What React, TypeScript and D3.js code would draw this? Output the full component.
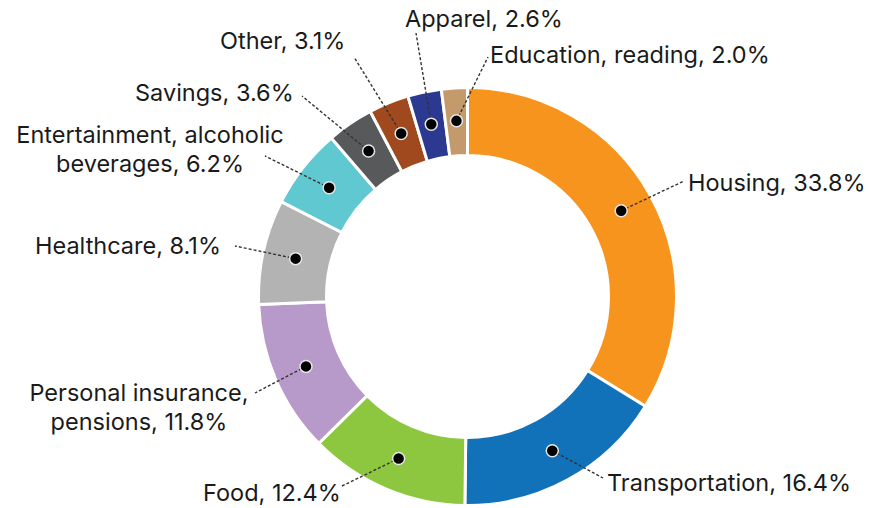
import React from "react";
import * as d3 from "d3";

const categories = [
  "Housing",
  "Transportation",
  "Food",
  "Personal insurance, pensions",
  "Healthcare",
  "Entertainment, alcoholic beverages",
  "Savings",
  "Other",
  "Apparel",
  "Education, reading",
];
const shares = [33.8, 16.4, 12.4, 11.8, 8.1, 6.2, 3.6, 3.1, 2.6, 2.0];
const colors = [
  "#F7941D",
  "#1172BA",
  "#8DC63F",
  "#B89ACA",
  "#B3B3B3",
  "#5FC8D0",
  "#58595B",
  "#A0481E",
  "#2B3990",
  "#C49A6C",
];
// label text lines
const labelLines = [
  ["Housing, 33.8%"],
  ["Transportation, 16.4%"],
  ["Food, 12.4%"],
  ["Personal insurance,", "pensions, 11.8%"],
  ["Healthcare, 8.1%"],
  ["Entertainment, alcoholic", "beverages, 6.2%"],
  ["Savings, 3.6%"],
  ["Other, 3.1%"],
  ["Apparel, 2.6%"],
  ["Education, reading, 2.0%"],
];

// layout (text anchor positions and leader end points)
const labelLayout = [
  { x: 688, y: 191, anchor: "start", lx: 684, ly: 181 },
  { x: 607, y: 491, anchor: "start", lx: 603, ly: 478 },
  { x: 203, y: 501, anchor: "start", lx: 342, ly: 486 },
  { x: 139, y: 401, anchor: "middle", lx: 255, ly: 393 },
  { x: 35, y: 254, anchor: "start", lx: 235, ly: 246 },
  { x: 150, y: 143, anchor: "middle", lx: 265, ly: 156 },
  { x: 135, y: 101, anchor: "start", lx: 302, ly: 96 },
  { x: 220, y: 49, anchor: "start", lx: 354, ly: 57 },
  { x: 405, y: 27, anchor: "start", lx: 416, ly: 33 },
  { x: 490, y: 63, anchor: "start", lx: 488, ly: 57 },
];

const W = 870;
const H = 508;
const cx = 467.5;
const cy = 296.5;
const outerR = 209;
const innerR = 141;
const dotR = 176;

export default function App() {
  const data = categories.map((c, i) => ({ name: c, value: shares[i], i }));
  const pie = d3.pie<any>().sort(null).value((d: any) => d.value);
  const arcs = pie(data);
  const arcGen = d3.arc<any>().innerRadius(innerR).outerRadius(outerR);
  const dotArc = d3.arc<any>().innerRadius(dotR).outerRadius(dotR);

  return (
    <svg
      width={W}
      height={H}
      style={{ position: "absolute", left: 0, top: 0, background: "#fff" }}
      fontFamily="Inter, 'Noto Sans', sans-serif"
    >
      <g transform={`translate(${cx},${cy})`}>
        {arcs.map((a, i) => (
          <path
            key={i}
            d={arcGen(a) as string}
            fill={colors[i]}
            stroke="#fff"
            strokeWidth={3}
          />
        ))}
      </g>
      {arcs.map((a, i) => {
        const [dx, dy] = dotArc.centroid(a);
        const px = cx + dx;
        const py = cy + dy;
        const L = labelLayout[i];
        return (
          <g key={i}>
            <line
              x1={px}
              y1={py}
              x2={L.lx}
              y2={L.ly}
              stroke="#333"
              strokeWidth={1.4}
              strokeDasharray="3,2"
            />
            <circle cx={px} cy={py} r={6} fill="#000" stroke="#e6e6e6" strokeWidth={1.5} />
            {labelLines[i].map((t, j) => (
              <text
                key={j}
                x={L.x}
                y={L.y + j * 29}
                textAnchor={L.anchor as any}
                fontSize={23.5}
                fill="#1a1a1a"
              >
                {t}
              </text>
            ))}
          </g>
        );
      })}
    </svg>
  );
}
